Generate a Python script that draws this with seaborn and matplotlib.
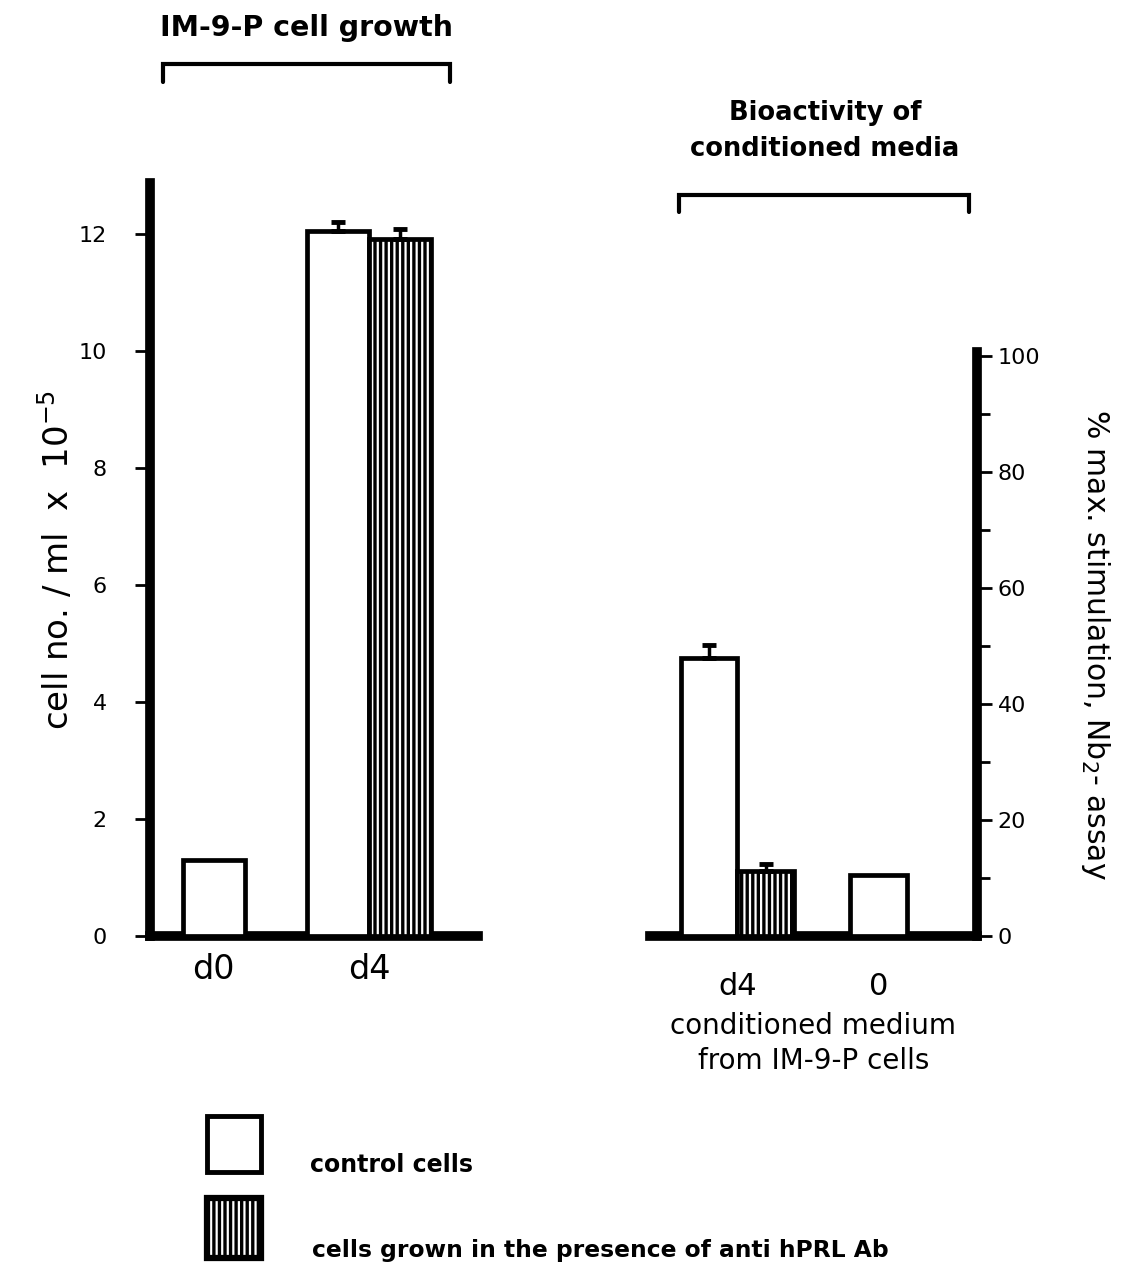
import numpy as np
import pandas as pd
import matplotlib
matplotlib.use("Agg")
import matplotlib.pyplot as plt
import seaborn as sns
from matplotlib.patches import Rectangle
from matplotlib.lines import Line2D

# ---------------- data ----------------
conditions = ["control cells", "cells grown in the presence of anti hPRL Ab"]

growth_groups = ["d0", "d4"]
growth_control = [1.3, 12.05]
growth_anti = [np.nan, 11.92]
growth_control_err = [np.nan, 0.15]
growth_anti_err = [np.nan, 0.17]

bio_groups = ["d4", "0"]
bio_control = [48.0, 10.5]
bio_anti = [11.2, np.nan]
bio_control_err = [2.2, np.nan]
bio_anti_err = [1.3, np.nan]

growth_yticks = [0, 2, 4, 6, 8, 10, 12]
bio_yticks = [0, 20, 40, 60, 80, 100]
bio_minor = [10, 30, 50, 70, 90]

# ---------------- style ----------------
sns.set_theme(style="white")
plt.rcParams["font.family"] = ["DejaVu Sans"]
plt.rcParams["hatch.linewidth"] = 2.4
plt.rcParams["hatch.color"] = "black"
plt.rcParams["text.color"] = "black"
plt.rcParams["axes.labelcolor"] = "black"
plt.rcParams["xtick.color"] = "black"
plt.rcParams["ytick.color"] = "black"

W, H = 1123, 1267
fig = plt.figure(figsize=(W / 100, H / 100), dpi=100)
fig.patch.set_facecolor("white")

EDGE_LW = 3.4
HATCH = "|||"


def long_df(groups, control, anti, cerr, aerr):
    rows = []
    for g, v, e in zip(groups, control, cerr):
        rows.append((g, conditions[0], v, e))
    for g, v, e in zip(groups, anti, aerr):
        rows.append((g, conditions[1], v, e))
    df = pd.DataFrame(rows, columns=["group", "condition", "value", "err"])
    return df.dropna(subset=["value"])


def draw_bars(ax, groups, df):
    for g in groups:
        sub = df[df["group"] == g]
        n_before = len(ax.containers)
        if len(sub) == 1:
            sns.barplot(data=sub, x="group", y="value", order=groups,
                        width=0.4, color="white", saturation=1,
                        edgecolor="black", linewidth=EDGE_LW, ax=ax,
                        errorbar=None)
            conds = [sub["condition"].iloc[0]]
        else:
            present = [c for c in conditions if c in set(sub["condition"])]
            sns.barplot(data=sub, x="group", y="value", hue="condition",
                        hue_order=present, order=groups, width=0.8,
                        palette=["white"] * len(present), saturation=1,
                        edgecolor="black", linewidth=EDGE_LW, ax=ax,
                        errorbar=None, legend=False)
            conds = present
        for cont, cond in zip(ax.containers[n_before:], conds):
            row = sub[sub["condition"] == cond].iloc[0]
            for p in cont.patches:
                p.set_zorder(3)
                if cond == conditions[1]:
                    p.set_hatch(HATCH)
                if not np.isnan(row["err"]):
                    xc = p.get_x() + p.get_width() / 2
                    ax.errorbar([xc], [p.get_height()],
                                yerr=[[0], [row["err"]]], fmt="none",
                                ecolor="black", elinewidth=2.5,
                                capsize=5, capthick=3.5, zorder=4)


# ---------------- left panel ----------------
ax1 = fig.add_axes([150 / W, 1 - 936 / H, (478 - 150) / W, (936 - 183) / H])
df1 = long_df(growth_groups, growth_control, growth_anti,
              growth_control_err, growth_anti_err)
draw_bars(ax1, growth_groups, df1)
ax1.set_xlim(-0.41, 1.70)
ax1.set_ylim(0, 12.87)
ax1.set_yticks(growth_yticks)
ax1.set_yticklabels([str(t) for t in growth_yticks])
ax1.set_xticks(range(len(growth_groups)))
ax1.set_xticklabels(growth_groups)
for s in ["top", "right"]:
    ax1.spines[s].set_visible(False)
for s in ["left", "bottom"]:
    ax1.spines[s].set_visible(True)
    ax1.spines[s].set_linewidth(7)
    ax1.spines[s].set_color("black")
ax1.tick_params(axis="y", direction="out", length=11, width=2,
                pad=20, labelsize=16, left=True)
ax1.tick_params(axis="x", length=0, pad=12, labelsize=24)
ax1.set_xlabel("")
ax1.set_ylabel("cell no. / ml  x  10$^{-5}$", fontsize=24.5, labelpad=2)
ax1.set_facecolor("white")

# ---------------- right panel ----------------
ax2 = fig.add_axes([650 / W, 1 - 936 / H, (977 - 650) / W, (936 - 352) / H])
df2 = long_df(bio_groups, bio_control, bio_anti, bio_control_err, bio_anti_err)
draw_bars(ax2, bio_groups, df2)
ax2.set_xlim(-0.62, 1.70)
ax2.set_ylim(0, 100.7)
ax2.yaxis.tick_right()
ax2.yaxis.set_label_position("right")
ax2.set_yticks(bio_yticks)
ax2.set_yticklabels([str(t) for t in bio_yticks])
ax2.set_yticks(bio_minor, minor=True)
ax2.set_xticks(range(len(bio_groups)))
ax2.set_xticklabels(bio_groups)
for s in ["top", "left"]:
    ax2.spines[s].set_visible(False)
for s in ["right", "bottom"]:
    ax2.spines[s].set_visible(True)
    ax2.spines[s].set_linewidth(7)
    ax2.spines[s].set_color("black")
ax2.tick_params(axis="y", which="major", direction="out", length=11, width=2,
                pad=4, labelsize=16, right=True, left=False)
ax2.tick_params(axis="y", which="minor", direction="out", length=9, width=2,
                right=True, left=False)
ax2.tick_params(axis="x", length=0, pad=26, labelsize=22)
ax2.set_xlabel("conditioned medium\nfrom IM-9-P cells", fontsize=20,
               labelpad=8, linespacing=1.3)
ax2.set_ylabel("% max. stimulation, Nb$_2$- assay", fontsize=21.5,
               rotation=270, va="bottom", labelpad=28)
ax2.set_facecolor("white")

# ---------------- titles and brackets ----------------
fig.text(307 / W, 1 - 28 / H, "IM-9-P cell growth", ha="center", va="center",
         fontsize=20.5, fontweight="bold")
fig.text(825 / W, 1 - 131 / H, "Bioactivity of\nconditioned media",
         ha="center", va="center", fontsize=18.5, fontweight="bold",
         linespacing=1.55)


def bracket(x0, x1, ytop, ybot):
    xs = [x0 / W, x0 / W, x1 / W, x1 / W]
    ys = [1 - ybot / H, 1 - ytop / H, 1 - ytop / H, 1 - ybot / H]
    fig.add_artist(Line2D(xs, ys, transform=fig.transFigure, color="black",
                          linewidth=3, solid_joinstyle="miter"))


bracket(163, 450, 64, 82)
bracket(679, 969, 195, 212)

# ---------------- legend ----------------
fig.add_artist(Rectangle((207 / W, 1 - 1172 / H), 54 / W, 56 / H,
                         transform=fig.transFigure, facecolor="white",
                         edgecolor="black", linewidth=3.5))
fig.add_artist(Rectangle((207 / W, 1 - 1258 / H), 54 / W, 60 / H,
                         transform=fig.transFigure, facecolor="white",
                         edgecolor="black", linewidth=4.5, hatch=HATCH))
fig.text(310 / W, 1 - 1165 / H, conditions[0], ha="left", va="center",
         fontsize=17, fontweight="bold")
fig.text(312 / W, 1 - 1250 / H, conditions[1], ha="left", va="center",
         fontsize=16.8, fontweight="bold")

fig.savefig("out.png", dpi=100, facecolor="white")
